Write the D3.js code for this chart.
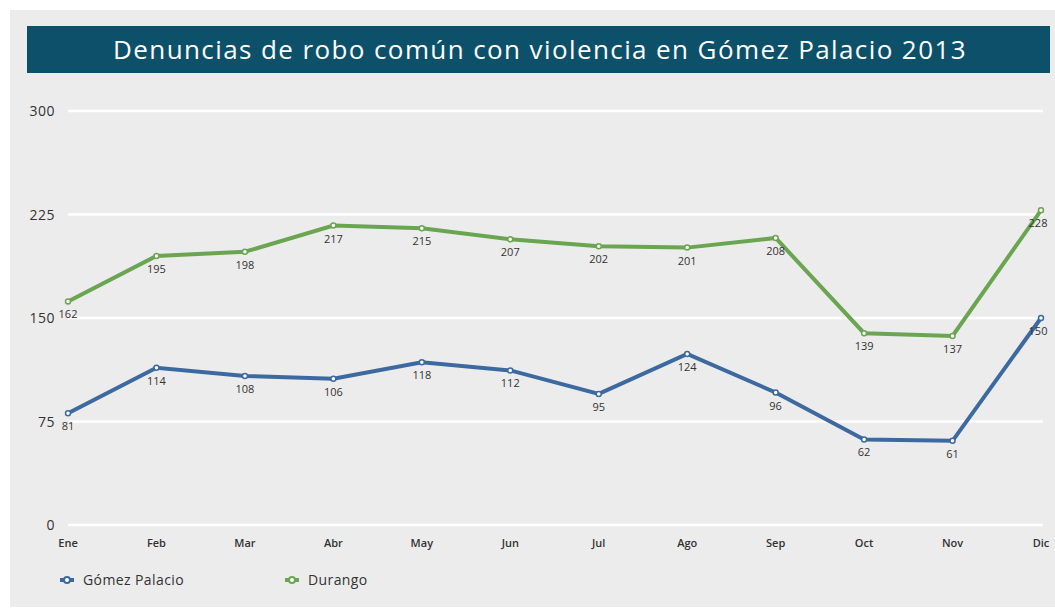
<!DOCTYPE html>
<html>
<head>
<meta charset="utf-8">
<script src="https://cdn.jsdelivr.net/npm/d3@7"></script>
<style>
  body { margin: 0; background: #fff; }
  svg { display: block; font-family: "Open Sans", "DejaVu Sans", sans-serif; }
</style>
</head>
<body>
<div id="chart"></div>
<script>
// Data
const months = ["Ene", "Feb", "Mar", "Abr", "May", "Jun", "Jul", "Ago", "Sep", "Oct", "Nov", "Dic"];
const gomezPalacio = [81, 114, 108, 106, 118, 112, 95, 124, 96, 62, 61, 150];
const durango = [162, 195, 198, 217, 215, 207, 202, 201, 208, 139, 137, 228];
const yTicks = [0, 75, 150, 225, 300];
const seriesNames = ["Gómez Palacio", "Durango"];
const seriesColors = ["#3c6aa0", "#6aa552"];

const svgWidth = 1055;
const svgHeight = 608;

const svg = d3.select("#chart")
              .append("svg")
              .attr("width", svgWidth)
              .attr("height", svgHeight);

// panel background
svg.append("rect")
   .attr("x", 10).attr("y", 10)
   .attr("width", 1045).attr("height", 597)
   .attr("fill", "#ececec");

// title bar
svg.append("rect")
   .attr("x", 27).attr("y", 26)
   .attr("width", 1023).attr("height", 47)
   .attr("fill", "#0c5069");

svg.append("text")
   .attr("x", 540).attr("y", 59)
   .attr("text-anchor", "middle")
   .attr("fill", "#fff")
   .style("font-size", "26px")
   .style("letter-spacing", "1.4px")
   .text("Denuncias de robo común con violencia en Gómez Palacio 2013");

const x = d3.scalePoint()
            .domain(months)
            .range([68, 1041]);

const y = d3.scaleLinear()
            .domain([0, 300])
            .range([525, 111]);

// gridlines
svg.append("g")
   .selectAll("line")
   .data(yTicks)
   .join("line")
   .attr("x1", 68).attr("x2", 1043)
   .attr("y1", d => y(d)).attr("y2", d => y(d))
   .attr("stroke", "#fff")
   .attr("stroke-width", 2.5);

// y axis labels
svg.append("g")
   .selectAll("text")
   .data(yTicks)
   .join("text")
   .attr("x", 55)
   .attr("y", d => y(d) + 5)
   .attr("text-anchor", "end")
   .attr("fill", "#333")
   .style("font-size", "14px")
   .style("letter-spacing", "0.5px")
   .text(d => d);

// x axis labels
svg.append("g")
   .selectAll("text")
   .data(months)
   .join("text")
   .attr("x", d => x(d))
   .attr("y", 547)
   .attr("text-anchor", "middle")
   .attr("fill", "#333")
   .style("font-size", "11px")
   .style("font-weight", "600")
   .text(d => d);

const line = d3.line()
               .x((d, i) => x(months[i]))
               .y(d => y(d));

[gomezPalacio, durango].forEach((values, s) => {
    const g = svg.append("g");
    g.append("path")
     .datum(values)
     .attr("d", line)
     .attr("fill", "none")
     .attr("stroke", seriesColors[s])
     .attr("stroke-width", 4);

    g.selectAll("circle")
     .data(values)
     .join("circle")
     .attr("cx", (d, i) => x(months[i]))
     .attr("cy", d => y(d))
     .attr("r", 2.5)
     .attr("fill", "#fff")
     .attr("stroke", seriesColors[s])
     .attr("stroke-width", 1.5);

    // last label nudged inward like the original
    g.selectAll("text")
     .data(values)
     .join("text")
     .attr("x", (d, i) => x(months[i]) - (i === values.length - 1 ? 3 : 0))
     .attr("y", d => y(d) + 17)
     .attr("text-anchor", "middle")
     .attr("fill", "#333")
     .style("font-size", "11px")
     .text(d => d);
});

// legend
const legendX = [67, 292];
seriesNames.forEach((name, i) => {
    const lg = svg.append("g").attr("transform", `translate(${legendX[i]},580)`);
    lg.append("line")
      .attr("x1", -7).attr("x2", 7)
      .attr("stroke", seriesColors[i])
      .attr("stroke-width", 4);
    lg.append("circle")
      .attr("r", 3)
      .attr("fill", "#fff")
      .attr("stroke", seriesColors[i])
      .attr("stroke-width", 2);
    lg.append("text")
      .attr("x", 16)
      .attr("y", 5)
      .attr("fill", "#333")
      .style("font-size", "14px")
      .style("letter-spacing", "0.4px")
      .text(name);
});
</script>
</body>
</html>
